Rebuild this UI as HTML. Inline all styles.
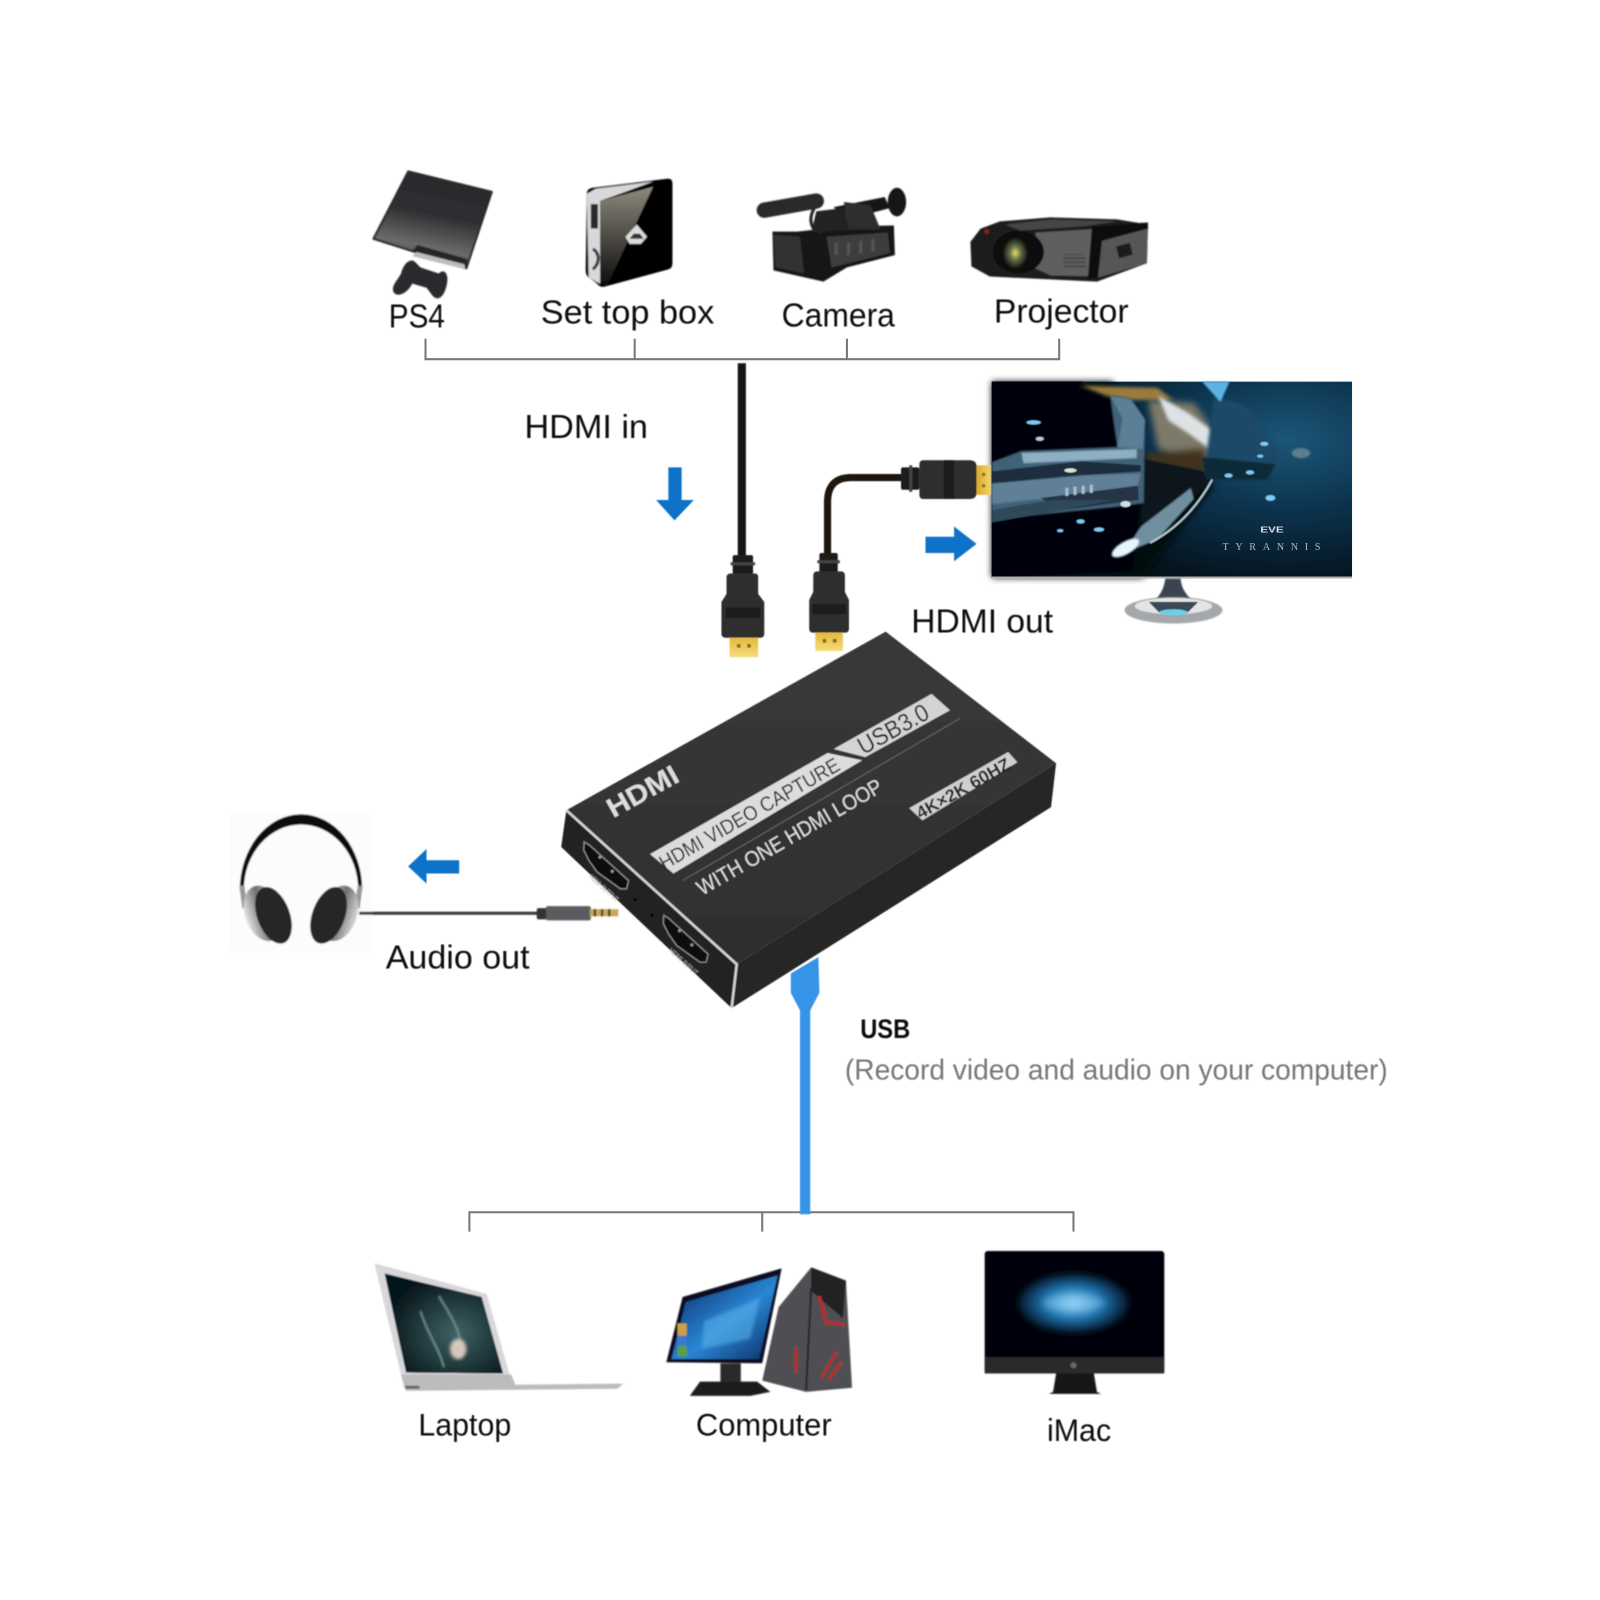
<!DOCTYPE html>
<html><head><meta charset="utf-8"><style>
html,body{margin:0;padding:0;background:#fff;width:1600px;height:1600px;overflow:hidden}
svg{display:block}
text{font-family:"Liberation Sans",sans-serif}
</style></head><body>
<svg xmlns="http://www.w3.org/2000/svg" width="1600" height="1600" viewBox="0 0 1568 1568">
<defs>
<filter id="t" x="-5%" y="-20%" width="110%" height="140%"><feGaussianBlur stdDeviation="0.5"/></filter>
<filter id="b1" x="-10%" y="-10%" width="120%" height="120%"><feGaussianBlur stdDeviation="0.8"/></filter>
<filter id="b2" x="-30%" y="-30%" width="160%" height="160%"><feGaussianBlur stdDeviation="1.6"/></filter>
<filter id="b3" x="-30%" y="-30%" width="160%" height="160%"><feGaussianBlur stdDeviation="3.5"/></filter>
<linearGradient id="ps" x1="0.65" y1="0" x2="0.4" y2="1"><stop offset="0" stop-color="#28282a"/><stop offset="0.45" stop-color="#2f2f31"/><stop offset="0.78" stop-color="#6a6a6c"/><stop offset="1" stop-color="#3a3a3c"/></linearGradient>
<linearGradient id="gloss" x1="0" y1="0" x2="0" y2="1"><stop offset="0" stop-color="#8c887c"/><stop offset="0.55" stop-color="#47453f"/><stop offset="1" stop-color="#0c0c0c"/></linearGradient>
<radialGradient id="sky" cx="0.82" cy="0.3" r="0.75"><stop offset="0" stop-color="#1c5678"/><stop offset="0.45" stop-color="#0c3550"/><stop offset="1" stop-color="#04121c"/></radialGradient>
<linearGradient id="top" x1="0" y1="0" x2="0" y2="1"><stop offset="0" stop-color="#3a3a3a"/><stop offset="1" stop-color="#2e2e2e"/></linearGradient>
<radialGradient id="glow"><stop offset="0" stop-color="#8fd4f8"/><stop offset="0.5" stop-color="#1f78b4"/><stop offset="0.85" stop-color="#0a2c4c"/><stop offset="1" stop-color="#03060c"/></radialGradient>
<linearGradient id="win" x1="0" y1="0" x2="1" y2="1"><stop offset="0" stop-color="#08265f"/><stop offset="0.55" stop-color="#2a86d4"/><stop offset="1" stop-color="#082a60"/></linearGradient>
<linearGradient id="cup" x1="0" y1="0" x2="1" y2="0"><stop offset="0" stop-color="#e6e6e6"/><stop offset="0.5" stop-color="#6e6e6e"/><stop offset="1" stop-color="#d8d8d8"/></linearGradient>
<linearGradient id="gold" x1="0" y1="0" x2="0" y2="1"><stop offset="0" stop-color="#e3b93e"/><stop offset="1" stop-color="#f6dc78"/></linearGradient>
<linearGradient id="goldh" x1="0" y1="0" x2="1" y2="0"><stop offset="0" stop-color="#d8a92e"/><stop offset="1" stop-color="#f3d466"/></linearGradient>
<radialGradient id="lens"><stop offset="0" stop-color="#e4e060"/><stop offset="0.45" stop-color="#65704a"/><stop offset="1" stop-color="#161612"/></radialGradient>
<radialGradient id="lapimg" cx="0.6" cy="0.6" r="0.6"><stop offset="0" stop-color="#4a7070"/><stop offset="1" stop-color="#06161b"/></radialGradient>
</defs>

<!-- bracket lines -->
<g fill="none" stroke="#777" stroke-width="2">
<path d="M417 332V352H1038V332M622 332V352M830 332V352"/>
<path d="M460 1207V1188H1052V1207M747 1188V1207"/>
</g>

<!-- PS -->
<g filter="url(#b1)">
<polygon points="400,168 482,188 457,263 366,234" fill="url(#ps)" stroke="#2a2a2a" stroke-width="2" stroke-linejoin="round"/>
<polygon points="366,234 404,246 409,240 458,254 457,263" fill="#252527"/>
<polygon points="408,247 455,259 456,264 404,251" fill="#bdbdbd"/>
<path d="M393 268C396 256 404 252 408 258L412 262 430 268C436 262 440 270 438 278 436 290 430 296 424 290L418 282 404 278C398 290 386 292 385 284 385 278 390 274 393 268Z" fill="#2b2b2d"/>
</g>
<!-- Set top box -->
<g filter="url(#b1)">
<path d="M575 190Q575 185 581 184L655 175Q659 175 659 180V258Q659 263 655 264L592 281Q588 282 584 277L577 272Q574 270 574 265Z" fill="#060606"/>
<polygon points="588,197 640,183 595,280 588,277" fill="url(#gloss)"/>
<path d="M575 190L584 185 640 178 588 197V278L577 272Z" fill="#d8d8da"/>
<rect x="579" y="200" width="7" height="24" fill="#2a2a2a"/>
<path d="M581 244C588 248 588 258 581 264" stroke="#333" stroke-width="3" fill="none"/>
<path d="M624 220L634 232 628 239 617 239 613 232Z" fill="#ddd"/>
<path d="M617 234L621 229 627 229 631 234Z" fill="#333"/>
</g>
<!-- Camera -->
<g filter="url(#b1)" fill="#191919">
<line x1="749" y1="206" x2="800" y2="197" stroke="#2c2c2c" stroke-width="15" stroke-linecap="round"/>
<polygon points="817,203 867,193 872,204 830,215"/>
<ellipse cx="879" cy="198" rx="9" ry="14"/>
<polygon points="757,227 781,227 827,222 876,221 877,250 830,262 807,276 758,265"/>
<polygon points="827,198 853,201 863,225 830,225" fill="#2f2f2f"/>
<polygon points="800,207 826,204 832,225 795,228" fill="#222"/>
<path d="M798 204C792 214 794 226 805 228" stroke="#222" stroke-width="3" fill="none"/>
<polygon points="758,230 784,232 788,268 760,262" fill="#333"/>
<polygon points="810,232 870,228 872,248 815,262" fill="#3d3d3d"/>
<g fill="#555"><rect x="818" y="238" width="3" height="12"/><rect x="830" y="238" width="3" height="12"/><rect x="842" y="236" width="3" height="12"/><rect x="854" y="234" width="3" height="12"/></g>
</g>
<!-- Projector -->
<g filter="url(#b1)">
<polygon points="951,237 961,224 980,217 1029,213 1095,215 1125,220 1124,258 1075,276 970,271 952,261" fill="#1b1b1b"/>
<polygon points="985,220 1029,215 1095,217 1060,222 1000,226" fill="#444"/>
<polygon points="1015,228 1079,224 1079,271 1030,270 1012,262" fill="#5e5e60"/>
<polygon points="1079,232 1125,220 1124,258 1076,272" fill="#565658"/>
<polygon points="1070,222 1125,218 1125,224 1080,236 1076,272 1066,274" fill="#111"/>
<ellipse cx="998" cy="247" rx="25" ry="21" fill="#0c0c0c"/>
<ellipse cx="995" cy="248" rx="12" ry="15" fill="url(#lens)"/>
<g fill="#8a8a8a"><rect x="1042" y="250" width="22" height="2"/><rect x="1042" y="254" width="22" height="2"/><rect x="1042" y="258" width="22" height="2"/><rect x="1042" y="262" width="22" height="2"/></g>
<rect x="1042" y="249" width="22" height="15" fill="#222" opacity="0.4"/>
<circle cx="967" cy="227" r="2.5" fill="#802020"/>
<rect x="1095" y="240" width="14" height="12" fill="#1c1c1c" transform="rotate(-14 1100 246)"/>
</g>

<!-- labels -->
<g fill="#111" font-size="33" filter="url(#t)">
<text x="381" y="321" textLength="55" lengthAdjust="spacingAndGlyphs">PS4</text>
<text x="530" y="317" textLength="170" lengthAdjust="spacingAndGlyphs">Set top box</text>
<text x="766" y="320" textLength="111" lengthAdjust="spacingAndGlyphs">Camera</text>
<text x="974" y="316" textLength="132" lengthAdjust="spacingAndGlyphs">Projector</text>
<text x="514" y="429" textLength="121" lengthAdjust="spacingAndGlyphs">HDMI in</text>
<text x="893" y="620" textLength="139" lengthAdjust="spacingAndGlyphs">HDMI out</text>
<text x="378" y="949" textLength="141" lengthAdjust="spacingAndGlyphs">Audio out</text>
<text x="410" y="1407" font-size="31" textLength="91" lengthAdjust="spacingAndGlyphs">Laptop</text>
<text x="682" y="1407" font-size="31" textLength="133" lengthAdjust="spacingAndGlyphs">Computer</text>
<text x="1026" y="1412" font-size="31" textLength="63" lengthAdjust="spacingAndGlyphs">iMac</text>
<text x="843" y="1017" font-size="26" font-weight="bold" textLength="49" lengthAdjust="spacingAndGlyphs">USB</text>
<text x="828" y="1058" font-size="28" fill="#777" textLength="532" lengthAdjust="spacingAndGlyphs">(Record video and audio on your computer)</text>
</g>

<!-- arrows -->
<g fill="#0b72c8" filter="url(#t)">
<polygon points="655,458 668,458 668,490 680,490 661,510 643,490 655,490"/>
<polygon points="907,526 935,526 935,516 957,533 935,550 935,542 907,542"/>
<polygon points="450,843 418,843 418,832 400,849 418,866 418,856 450,856"/>
</g>

<!-- Monitor -->
<g>
<rect x="972" y="374" width="353" height="192" fill="url(#sky)"/>
<g filter="url(#t)">
<polygon points="972,374 1090,374 1122,450 1190,475 1120,566 972,566" fill="#04080c" filter="url(#b3)"/>
<polygon points="972,374 1060,374 1090,395 1122,450 1110,560 972,566" fill="#03050a"/>
<polygon points="1059,378 1134,380 1150,392 1110,392 1085,388" fill="#9a7c3e" filter="url(#b2)"/>
<polygon points="1125,392 1170,395 1195,430 1190,462 1170,460 1135,440" fill="#7d7a6a" filter="url(#b3)"/>
<polygon points="1135,388 1165,405 1192,425 1192,445 1165,425 1145,412" fill="#dde2e4" filter="url(#b2)"/>
<polygon points="1122,445 1180,440 1185,465 1125,490" fill="#40321e" filter="url(#b3)"/>
<polygon points="1121,450 1180,462 1186,472 1128,530 1118,510" fill="#10151a" filter="url(#b1)"/>
<polygon points="972,453 1001,442 1095,438 1091,411 1088,388 1108,391 1122,411 1121,493 1101,496 972,509" fill="#3f6278" filter="url(#b1)"/>
<polygon points="1088,388 1108,391 1122,411 1120,440 1095,438 1100,410" fill="#5a7f96" filter="url(#b1)"/>
<polygon points="1001,444 1114,440 1114,449 1003,454" fill="#8fafc2" filter="url(#b1)"/>
<polygon points="972,462 1060,452 1118,456 1118,462 1060,466 972,474" fill="#1d2e3c"/>
<polygon points="972,474 1060,466 1118,464 1115,476 1030,488 972,494" fill="#5e8097" filter="url(#b1)"/>
<polygon points="1020,488 1115,476 1116,490 1040,500" fill="#253644"/>
<g fill="#a8c0cc"><rect x="1044" y="478" width="3" height="8"/><rect x="1052" y="477" width="3" height="8"/><rect x="1060" y="476" width="3" height="8"/><rect x="1068" y="475" width="3" height="8"/></g>
<polygon points="972,500 1030,490 1090,490 1040,500 972,512" fill="#2e485a"/>
<polygon points="1190,388 1222,398 1258,450 1242,463 1180,463" fill="#1a4a68" filter="url(#b2)"/>
<polygon points="1178,374 1205,374 1196,394" fill="#5cb4e2" filter="url(#b1)"/>
<polygon points="1178,448 1250,455 1242,470 1182,470" fill="#0f2a38" filter="url(#b1)"/>
<polygon points="1118,516 1167,478 1170,489 1134,529 1101,542" fill="#6f8f9e" filter="url(#b1)"/>
<path d="M1127 532Q1165 512 1188 470" stroke="#b8c8d0" stroke-width="2" fill="none"/>
<ellipse cx="1103" cy="537" rx="15" ry="6" fill="#e6f6ff" filter="url(#b1)" transform="rotate(-30 1103 537)"/>
<g fill="#7ccbf2">
<ellipse cx="1013" cy="414" rx="7" ry="2"/><ellipse cx="1019" cy="430" rx="4" ry="2" fill="#b8cbd2"/><ellipse cx="1059" cy="511" rx="4" ry="2"/><ellipse cx="1077" cy="519" rx="5" ry="2"/><ellipse cx="1039" cy="520" rx="3" ry="1.5"/><ellipse cx="1103" cy="494" rx="5" ry="3" fill="#cfdfe6"/><ellipse cx="1049" cy="461" rx="6" ry="2" fill="#e0e4da"/><ellipse cx="1245" cy="488" rx="5" ry="3"/><ellipse cx="1225" cy="463" rx="4" ry="2"/><ellipse cx="1204" cy="466" rx="4" ry="2"/><ellipse cx="1239" cy="435" rx="4" ry="2"/><ellipse cx="1235" cy="447" rx="3" ry="1.5"/>
</g>
<ellipse cx="1275" cy="444" rx="9" ry="5" fill="#5d7f8c" filter="url(#b1)"/>
</g>
<text x="1235" y="522" font-size="8" font-weight="bold" fill="#dde" textLength="23" lengthAdjust="spacingAndGlyphs">EVE</text>
<text x="1198" y="539" font-size="10" fill="#a9b9c0" textLength="96" style="font-family:'Liberation Serif',serif">TYRANNIS</text>
<rect x="972" y="565" width="353" height="2" fill="#b4b4b4"/>
<path d="M1142 567H1157C1158 582 1170 590 1180 597H1120C1132 590 1140 582 1142 567Z" fill="#3a4450" filter="url(#b1)"/>
<ellipse cx="1150" cy="598" rx="48" ry="13" fill="#a4a7ab" filter="url(#b1)"/>
<ellipse cx="1150" cy="594" rx="38" ry="8" fill="#e4e4e4" filter="url(#t)"/>
<path d="M1126 590H1174L1164 600H1136Z" fill="#3a4a55" filter="url(#t)"/>
<ellipse cx="1150" cy="600" rx="14" ry="3" fill="#6cd0ea" filter="url(#t)"/>
</g>

<!-- HDMI cables -->
<g filter="url(#t)">
<rect x="723" y="356" width="8" height="190" fill="#151515"/>
<path d="M811 545V492Q811 468 834 468H885" fill="none" stroke="#1a1210" stroke-width="7"/>
<g>
<rect x="718" y="544" width="20" height="19" rx="2" fill="#1f1f1f"/>
<rect x="716" y="551" width="24" height="3" fill="#444"/>
<path d="M712 566Q712 562 716 562H740Q743 562 743 566V582L749 590V621Q749 625 745 625H711Q707 625 707 621V590L712 582Z" fill="#2e2e2e"/>
<rect x="711" y="595" width="34" height="11" fill="#1c1c1c"/>
<rect x="715" y="625" width="28" height="19" fill="url(#gold)"/>
<circle cx="724" cy="633" r="2" fill="#8a6a20"/><circle cx="734" cy="633" r="2" fill="#8a6a20"/>
</g>
<g>
<rect x="803" y="542" width="18" height="19" rx="2" fill="#1f1f1f"/>
<rect x="801" y="549" width="22" height="3" fill="#444"/>
<path d="M797 564Q797 560 801 560H824Q828 560 828 564V580L832 588V616Q832 620 828 620H797Q793 620 793 616V588L797 580Z" fill="#2e2e2e"/>
<rect x="796" y="592" width="33" height="10" fill="#1c1c1c"/>
<rect x="799" y="620" width="27" height="18" fill="url(#gold)"/>
<circle cx="808" cy="628" r="2" fill="#8a6a20"/><circle cx="818" cy="628" r="2" fill="#8a6a20"/>
</g>
<g>
<rect x="883" y="458" width="18" height="22" rx="2" fill="#1f1f1f"/>
<rect x="891" y="456" width="3" height="26" fill="#444"/>
<path d="M901 455Q901 451 905 451H950Q957 451 957 457V483Q957 489 950 489H905Q901 489 901 485Z" fill="#2e2e2e"/>
<rect x="925" y="451" width="10" height="38" fill="#1c1c1c"/>
<rect x="957" y="456" width="14" height="29" fill="url(#goldh)"/>
<circle cx="964" cy="465" r="1.7" fill="#8a6a20"/><circle cx="964" cy="476" r="1.7" fill="#8a6a20"/>
</g>
</g>

<!-- USB cable -->
<g fill="#3593e8" filter="url(#t)">
<rect x="784" y="985" width="10" height="205"/>
<polygon points="775,954 802,938 803,973 793,992 785,992 775,973"/>
</g>

<!-- Capture device -->
<g filter="url(#t)">
<polygon points="555,794 550,830 717,988 722,945" fill="#242424"/>
<polygon points="722,945 1035,748 1030,791 717,988" fill="#262626"/>
<polygon points="555,794 868,619 1035,748 722,945" fill="url(#top)"/>
<path d="M555 794L722 945 717 988" fill="none" stroke="#d2d2d2" stroke-width="2.5"/>
<polygon points="637,837 811,738 845,745 660,856" fill="#dcdcdc"/>
<polygon points="817,734 913,680 931,696 848,742" fill="#d4d4d4"/>
<line x1="669" y1="863" x2="941" y2="704" stroke="#666" stroke-width="1"/>
<polygon points="891,792 988,737 997,747 904,804" fill="#cfcfcf"/>
<g stroke="#888" stroke-width="1.3" fill="#0b0b0b">
<path d="M572.5 825L578 828.5 616 863 614 871 608 871 585 854.5 577 843 572 833Z"/>
<path d="M650.5 897L656 900.5 694 935 692 943 686 943 663 926.5 655 915 650 905Z"/>
</g>
<g fill="#999"><circle cx="588" cy="840" r="1.5"/><circle cx="600" cy="854" r="1.5"/><circle cx="666" cy="912" r="1.5"/><circle cx="678" cy="926" r="1.5"/></g>
<circle cx="622.6" cy="881.6" r="1.5" fill="#000"/><circle cx="639" cy="897" r="1.5" fill="#000"/>
<text transform="translate(577,860) rotate(42)" font-size="7" fill="#aaa" textLength="36" lengthAdjust="spacingAndGlyphs">HDMI OUTPUT</text>
<text transform="translate(655,932) rotate(42)" font-size="7" fill="#aaa" textLength="36" lengthAdjust="spacingAndGlyphs">HDMI INPUT</text>
<text transform="translate(601,802) rotate(-29)" font-size="27" font-weight="bold" fill="#ddd" textLength="76" lengthAdjust="spacingAndGlyphs">HDMI</text>
<text transform="translate(651,853) rotate(-29.7)" font-size="20" fill="#222" textLength="200" lengthAdjust="spacingAndGlyphs">HDMI VIDEO CAPTURE</text>
<text transform="translate(846,740) rotate(-29)" font-size="24" fill="#222" textLength="76" lengthAdjust="spacingAndGlyphs">USB3.0</text>
<text transform="translate(688,878) rotate(-30)" font-size="21" fill="#ddd" textLength="206" lengthAdjust="spacingAndGlyphs">WITH ONE HDMI LOOP</text>
<text transform="translate(902,803) rotate(-29.5)" font-size="17" font-weight="bold" fill="#222" textLength="103" lengthAdjust="spacingAndGlyphs">4K×2K 60HZ</text>
</g>

<!-- Headphones -->
<g filter="url(#b1)">
<rect x="225" y="797" width="140" height="136" fill="#fcfcfc"/>
<path d="M235 872A60 74 0 0 1 355 872L351 872A56 64 0 0 0 239 872Z" fill="#0d0d0d"/>
<path d="M237 868L240 890M353 868L350 890" stroke="#999" stroke-width="5"/>
<ellipse cx="258" cy="895" rx="18" ry="28" fill="url(#cup)" transform="rotate(-18 258 895)"/>
<ellipse cx="332" cy="895" rx="18" ry="28" fill="url(#cup)" transform="rotate(18 332 895)"/>
<ellipse cx="268" cy="897" rx="16" ry="29" fill="#262626" transform="rotate(-20 268 897)"/>
<ellipse cx="322" cy="897" rx="16" ry="29" fill="#262626" transform="rotate(20 322 897)"/>
<line x1="352" y1="895" x2="530" y2="895" stroke="#333" stroke-width="3"/>
<rect x="526" y="890" width="10" height="11" rx="2" fill="#333"/>
<rect x="535" y="888" width="44" height="14" rx="2" fill="#5c5c60"/>
<rect x="578" y="891" width="28" height="7" fill="#c8a85a"/>
<g fill="#222"><rect x="582" y="891" width="2" height="7"/><rect x="589" y="891" width="2" height="7"/><rect x="596" y="891" width="2" height="7"/></g>
</g>

<!-- Laptop -->
<g filter="url(#b1)">
<polygon points="367,1238 477,1268 501,1353 396,1360" fill="#d8d8dc"/>
<polygon points="377,1248 472,1271 493,1346 398,1345" fill="#071418"/>
<polygon points="377,1248 472,1271 493,1346 398,1345" fill="url(#lapimg)" opacity="0.85"/>
<path d="M412 1285C420 1310 430 1320 435 1340M430 1270C445 1295 455 1310 450 1330" stroke="#6f9090" stroke-width="2" fill="none" filter="url(#b1)"/>
<ellipse cx="449" cy="1322" rx="8" ry="10" fill="#d8c8bc" filter="url(#b2)"/>
<polygon points="393,1347 501,1347 505,1357 611,1356 605,1361 398,1363" fill="#bcbcbe"/>
<rect x="397" y="1358" width="14" height="3" fill="#666"/>
</g>

<!-- Computer -->
<g filter="url(#b1)">
<polygon points="669,1271 766,1243 747,1336 653,1335" fill="#0b1020"/>
<polygon points="672,1276 762,1250 744,1332 658,1332" fill="url(#win)"/>
<polygon points="690,1295 745,1272 735,1312 688,1322" fill="#5cb4ec" opacity="0.55" filter="url(#b2)"/>
<rect x="664" y="1297" width="9" height="12" fill="#d0a040"/><rect x="664" y="1309" width="9" height="10" fill="#3a7ad0"/><rect x="664" y="1319" width="9" height="10" fill="#5aa040"/>
<rect x="706" y="1336" width="20" height="28" fill="#2a2a2a"/>
<polygon points="686,1354 742,1354 755,1364 735,1368 676,1368" fill="#1e1e1e"/>
<polygon points="795,1242 829,1255 835,1360 790,1364 747,1353 763,1281" fill="#505052"/>
<polygon points="795,1242 829,1255 826,1292 795,1265" fill="#202020"/>
<path d="M803 1270L810 1296 828 1298" fill="none" stroke="#c0282a" stroke-width="3"/>
<path d="M780 1320V1345M805 1350L820 1325M812 1352L825 1335" stroke="#b82a2a" stroke-width="3"/>
<line x1="795" y1="1262" x2="790" y2="1362" stroke="#222" stroke-width="2"/>
</g>

<!-- iMac -->
<g filter="url(#b1)">
<rect x="965" y="1226" width="176" height="120" rx="3" fill="#04050a"/>
<ellipse cx="1052" cy="1277" rx="56" ry="30" fill="url(#glow)" filter="url(#b3)"/>
<ellipse cx="1052" cy="1277" rx="30" ry="8" fill="#a0dcff" opacity="0.35" filter="url(#b3)"/>
<rect x="965" y="1330" width="176" height="16" fill="#2a2a2c"/>
<circle cx="1052" cy="1338" r="3" fill="#666"/>
<polygon points="1035,1346 1072,1346 1075,1364 1079,1366 1028,1366 1032,1364" fill="#151515"/>
</g>
</svg>
</body></html>
